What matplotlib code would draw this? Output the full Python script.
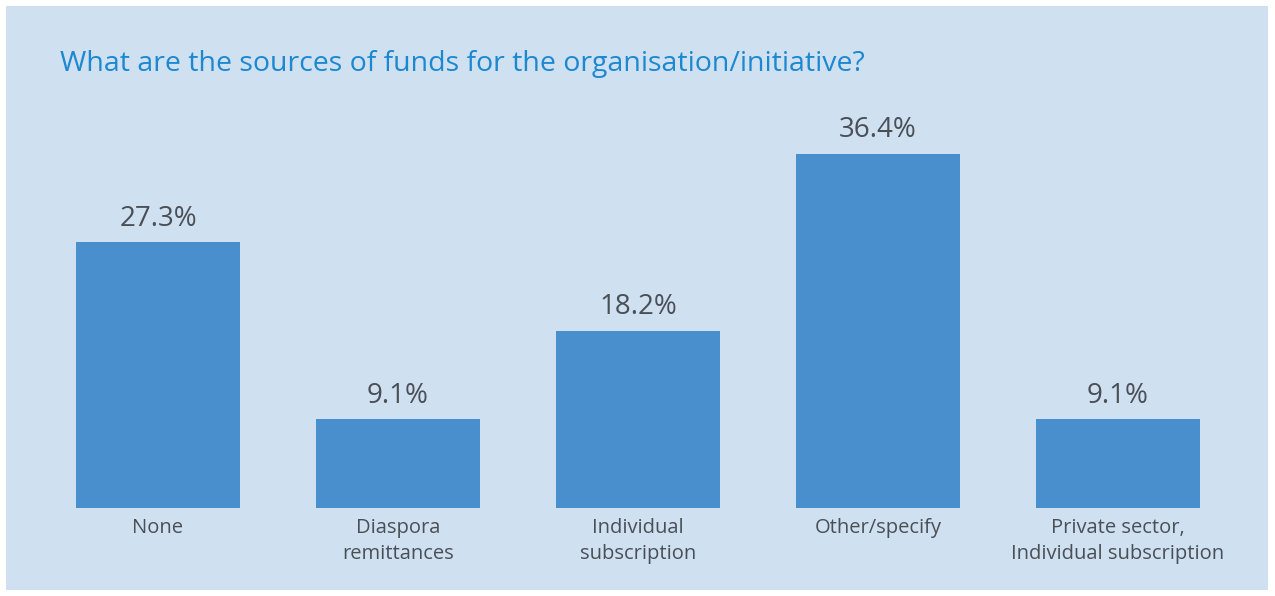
import matplotlib.pyplot as plt
from matplotlib.patches import Rectangle

# data
categories = ["None", "Diaspora\nremittances", "Individual\nsubscription",
              "Other/specify", "Private sector,\nIndividual subscription"]
values = [27.3, 9.1, 18.2, 36.4, 9.1]
value_labels = ["27.3%", "9.1%", "18.2%", "36.4%", "9.1%"]
positions = [0, 1, 2, 3, 4]

title = "What are the sources of funds for the organisation/initiative?"

bg = "#cfe0f1"
bar_color = "#4a8fcd"
text_color = "#4a4f55"
title_color = "#1b88d0"

plt.rcParams['font.family'] = ['Open Sans', 'DejaVu Sans']

W, H = 1275, 596
fig = plt.figure(figsize=(W / 100, H / 100), dpi=100)
fig.patch.set_facecolor("white")

# light blue panel
fig.patches.append(Rectangle((6 / W, 6 / H), (1268 - 6) / W, (590 - 6) / H,
                             transform=fig.transFigure, facecolor=bg,
                             edgecolor="none", zorder=-10))

# axes spanning full width, baseline at pixel 508
ax = fig.add_axes([0, 1 - 508 / H, 1, 408 / H])
ax.set_zorder(5)
ax.set_facecolor("none")
px_per_unit = 240
ax.set_xlim(-158 / px_per_unit, (W - 158) / px_per_unit)
ax.set_ylim(0, 408 / 9.73)

ax.bar(positions, values, width=164 / px_per_unit, color=bar_color, zorder=2)

for x, v, lab in zip(positions, values, value_labels):
    ax.annotate(lab, (x, v), xytext=(0, 7), textcoords="offset points",
                ha="center", va="bottom", fontsize=20, color=text_color,
                annotation_clip=False)

for x, lab in zip(positions, categories):
    ax.annotate(lab, (x, 0), xytext=(0, -7), textcoords="offset points",
                ha="center", va="top", fontsize=14.5, color=text_color,
                linespacing=1.45, annotation_clip=False)

for s in ax.spines.values():
    s.set_visible(False)
ax.set_xticks([])
ax.set_yticks([])

fig.text(60 / W, 1 - 64 / H, title, ha="left", va="center",
         fontsize=20.5, color=title_color)

fig.savefig("out.png", dpi=100)
